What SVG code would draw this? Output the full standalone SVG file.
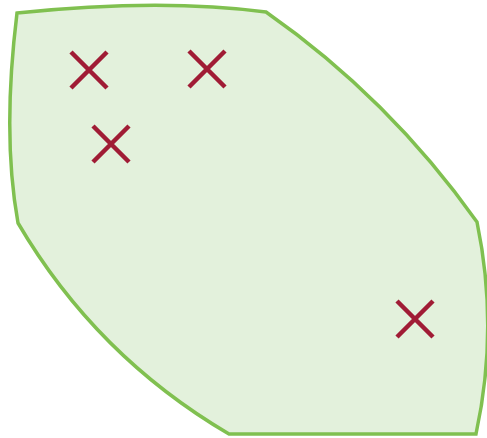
<svg xmlns="http://www.w3.org/2000/svg" width="487" height="438" viewBox="0 0 487 438">
<style>
.region{fill:#e3f1dc;stroke:#80c050;stroke-width:3.5;stroke-linejoin:miter}
.x{stroke:#a01c35;stroke-width:4.5;fill:none}
</style>
<rect width="487" height="438" fill="#ffffff"/>
<g id="region">
<path class="region" d="M17,13 Q160,-2 266,12 Q389,98 477,222 Q499,328 476,434 L229,434 Q96,356 18,223 Q2,135 17,13 Z"/>
</g>
<g id="crosses">
<g id="x1"><path class="x" d="M71,52 L107,88 M107,52 L71,88"/></g>
<g id="x2"><path class="x" d="M189,51 L225,87 M225,51 L189,87"/></g>
<g id="x3"><path class="x" d="M93,126 L129,162 M129,126 L93,162"/></g>
<g id="x4"><path class="x" d="M397,301 L433,337 M433,301 L397,337"/></g>
</g>
</svg>
